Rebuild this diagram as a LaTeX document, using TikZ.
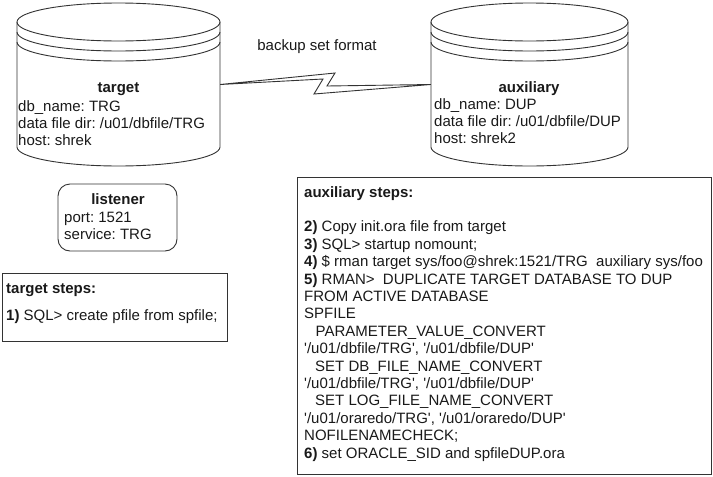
\documentclass[tikz,border=0pt]{standalone}
\usepackage{fontspec}
\newfontfamily\af{Liberation Sans}
\frenchspacing
\newcommand\mlines[2]{\parbox[t]{#1}{\raggedright #2}}
\tikzset{
  ln/.style={draw=black!80, line width=0.9pt},
  txt/.style={font=\af\fontsize{15}{17.4}\selectfont\frenchspacing, text=black!90, inner sep=0pt},
  body/.style={inner sep=0pt, draw=none},
  cyl/.style={x radius=#1, y radius=19, start angle=180, end angle=360},
}
\begin{document}
\begin{tikzpicture}[x=1pt,y=1pt]
\useasboundingbox (0,0) rectangle (713,-477);

% target cylinder
\node[body, minimum width=203pt, minimum height=125pt] (tgt) at (118.5,-84.5) {};
\draw[ln] (118.5,-22) ellipse [x radius=101.5, y radius=19];
\draw[ln] (17,-32) arc[cyl=101.5];
\draw[ln] (17,-42) arc[cyl=101.5];
\draw[ln] (17,-22) -- (17,-147) arc[cyl=101.5] -- (220,-22);
\node[txt, anchor=base] (tgttitle) at (118.5,-92) {\textbf{target}};
\node[txt, anchor=base west] (tgtinfo) at (18,-111)
  {\mlines{200pt}{db\_name: TRG\\data file dir: /u01/dbfile/TRG\\host: shrek}};

% auxiliary cylinder
\node[body, minimum width=197pt, minimum height=125pt] (aux) at (529.5,-84.5) {};
\draw[ln] (529.5,-22) ellipse [x radius=98.5, y radius=19];
\draw[ln] (431,-32) arc[cyl=98.5];
\draw[ln] (431,-42) arc[cyl=98.5];
\draw[ln] (431,-22) -- (431,-147) arc[cyl=98.5] -- (628,-22);
\node[txt, anchor=base] (auxtitle) at (529,-92) {\textbf{auxiliary}};
\node[txt, anchor=base west] (auxinfo) at (434,-109)
  {\mlines{200pt}{db\_name: DUP\\data file dir: /u01/dbfile/DUP\\host: shrek2}};

% lightning connector
\draw[ln, line join=miter] (tgt.east) -- (335,-73) -- (327,-86) -- (aux.west)
  -- (314,-94) -- (323,-79) -- cycle;
\node[txt, anchor=base] (fmt) at (317,-50) {backup set format};

% listener
\node[ln, rounded corners=12pt, minimum width=119pt, minimum height=67pt] (lst) at (117.5,-217.5) {};
\node[txt, anchor=base] (lsttitle) at (118,-204) {\textbf{listener}};
\node[txt, anchor=base west] (lstinfo) at (64,-222)
  {\mlines{110pt}{port: 1521\\service: TRG}};

% target steps
\node[ln, minimum width=225pt, minimum height=68pt] (tsteps) at (114.5,-307) {};
\node[txt, anchor=base west] (tstitle) at (6,-293) {\textbf{target steps:}};
\node[txt, anchor=base west] (ts1) at (6,-320) {\textbf{1)} SQL> create pfile from spfile;};

% auxiliary steps
\node[ln, minimum width=414pt, minimum height=297pt] (asteps) at (504,-325.5) {};
\node[txt, anchor=base west] (astext) at (304,-197)
  {\mlines{405pt}{\textbf{auxiliary steps:}\\[17.4pt]
  \textbf{2)} Copy init.ora file from target\\
  \textbf{3)} SQL> startup nomount;\\
  \textbf{4)} \$ rman target sys/foo@shrek:1521/TRG\ \ auxiliary sys/foo\\
  \textbf{5)} RMAN>\ \ DUPLICATE TARGET DATABASE TO DUP\\
  FROM ACTIVE DATABASE\\
  SPFILE\\
  \hspace*{11.5pt}PARAMETER\_VALUE\_CONVERT\\
  '/u01/dbfile/TRG', '/u01/dbfile/DUP'\\
  \hspace*{11pt}SET DB\_FILE\_NAME\_CONVERT\\
  '/u01/dbfile/TRG', '/u01/dbfile/DUP'\\
  \hspace*{11pt}SET LOG\_FILE\_NAME\_CONVERT\\
  '/u01/oraredo/TRG', '/u01/oraredo/DUP'\\
  NOFILENAMECHECK;\\
  \textbf{6)} set ORACLE\_SID and spfileDUP.ora}};
\end{tikzpicture}
\end{document}
